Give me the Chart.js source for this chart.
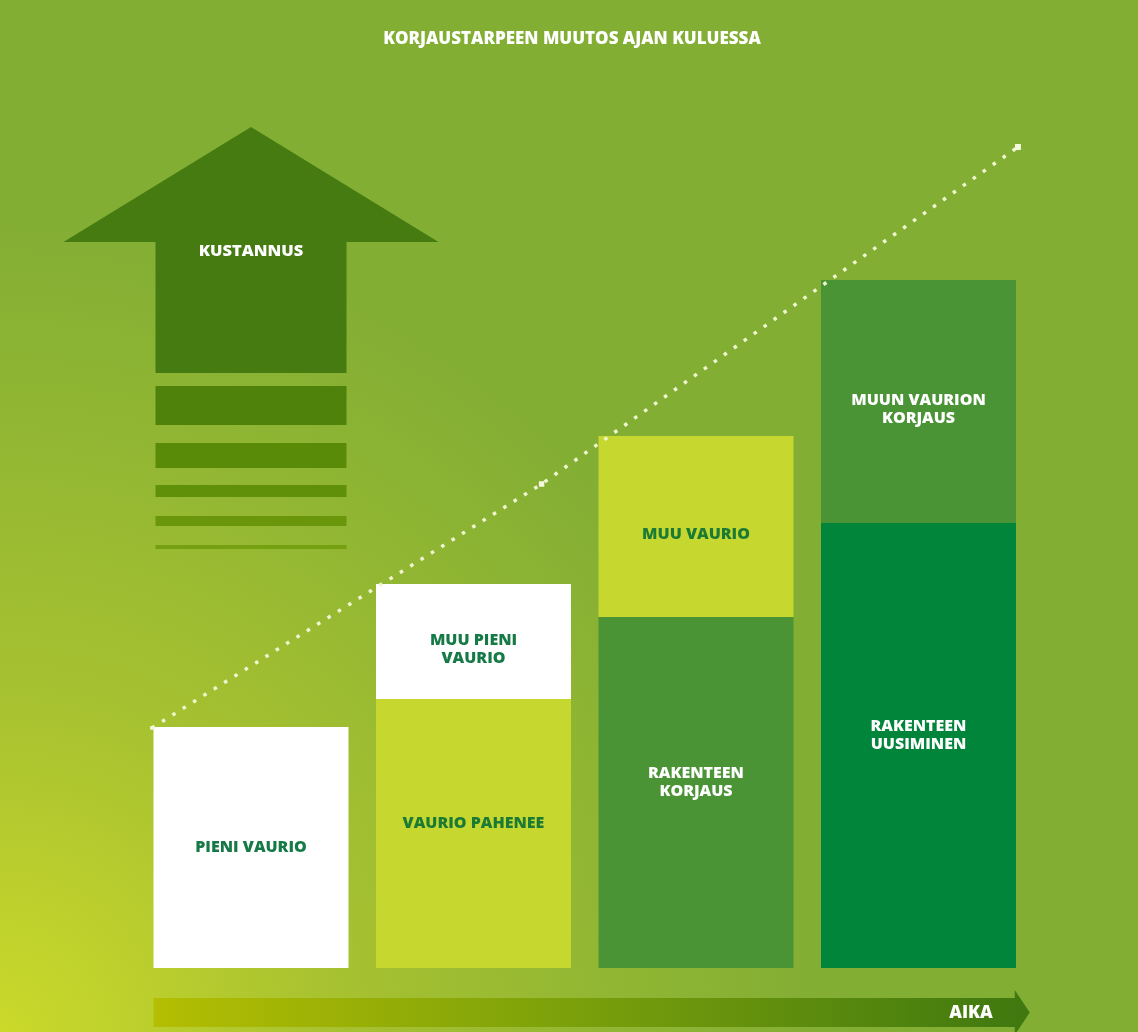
<!DOCTYPE html>
<html lang="fi">
<head>
<meta charset="utf-8">
<title>Korjaustarpeen muutos ajan kuluessa</title>
<script src="https://cdn.jsdelivr.net/npm/chart.js@4.4.1/dist/chart.umd.min.js"></script>
<style>
  html, body { margin: 0; padding: 0; background: #82ae34; }
  #wrap { position: relative; width: 1138px; height: 1032px; }
</style>
</head>
<body>
<div id="wrap"><canvas id="korjausChart"></canvas></div>
<script>
// Vaiheet ajan kuluessa
const vaiheet = ['1', '2', '3', '4'];

// Kustannus: alaosa (vaurio / rakenteen korjaus) ja yläosa (muu vaurio)
const perusKustannus = [24.1, 26.9, 35.1, 44.5];
const lisaKustannus = [null, 11.5, 18.1, 24.3];

const perusTekstit = ['PIENI VAURIO', 'VAURIO PAHENEE', 'RAKENTEEN\nKORJAUS', 'RAKENTEEN\nUUSIMINEN'];
const lisaTekstit = ['', 'MUU PIENI\nVAURIO', 'MUU VAURIO', 'MUUN VAURION\nKORJAUS'];

// Kustannuskehityksen pisteviiva (x = vaiheen indeksi)
const trendiX = [-0.446, 1.306, 3.447];
const trendiY = [24.0, 48.4, 82.1];

const otsikko = 'KORJAUSTARPEEN MUUTOS AJAN KULUESSA';
const kustannusTeksti = 'KUSTANNUS';
const aikaTeksti = 'AIKA';

// värit
const VALKOINEN = '#ffffff';
const KELTAVIHREA = '#c6d82f';
const VIHREA = '#4a9436';
const TUMMA = '#00853b';
const perusVarit = [VALKOINEN, KELTAVIHREA, VIHREA, TUMMA];
const lisaVarit = [VALKOINEN, VALKOINEN, KELTAVIHREA, VIHREA];
const perusTekstiVarit = ['#167a46', '#1b7a34', '#ffffff', '#ffffff'];
const lisaTekstiVarit = ['#167a46', '#167a46', '#1b7a34', '#ffffff'];

const FONTTI = '"Open Sans", "DejaVu Sans", sans-serif';
const PYLVAAT = 1; // ensimmäinen pylväsdatasetti

// Taustan liukuväri vasemmasta alakulmasta
const taustaPlugin = {
    id: 'tausta',
    beforeDraw(chart) {
        const { ctx, width, height } = chart;
        const g = ctx.createRadialGradient(0, height, 0, 0, height, 820);
        g.addColorStop(0, '#cbd92a');
        g.addColorStop(0.4, '#a8c230');
        g.addColorStop(0.75, '#91b633');
        g.addColorStop(1, '#82ae34');
        ctx.save();
        ctx.fillStyle = g;
        ctx.fillRect(0, 0, width, height);
        ctx.restore();
    }
};

// Kustannusnuoli ja aika-akselin nuoli
const nuoletPlugin = {
    id: 'nuolet',
    beforeDatasetsDraw(chart) {
        const { ctx, chartArea } = chart;
        const eka = chart.getDatasetMeta(PYLVAAT).data[0];
        const cx = eka.x;
        const top = chartArea.top;
        ctx.save();

        // nuolen kärki ja varsi
        ctx.fillStyle = '#457b10';
        ctx.beginPath();
        ctx.moveTo(cx, top + 59);
        ctx.lineTo(cx + 187.5, top + 174);
        ctx.lineTo(cx + 95.5, top + 174);
        ctx.lineTo(cx + 95.5, top + 305);
        ctx.lineTo(cx - 95.5, top + 305);
        ctx.lineTo(cx - 95.5, top + 174);
        ctx.lineTo(cx - 187.5, top + 174);
        ctx.closePath();
        ctx.fill();

        // raidat varren alla
        const raidat = [[318, 39, '#4e820a'], [375, 25, '#5a8b08'], [417, 12, '#609009'],
                        [448, 10, '#6a960c'], [477, 4, '#74a012']];
        raidat.forEach(([y, h, vari]) => {
            ctx.fillStyle = vari;
            ctx.fillRect(cx - 95.5, top + y, 191, h);
        });

        ctx.fillStyle = '#ffffff';
        ctx.font = '800 16.5px ' + FONTTI;
        ctx.textAlign = 'center';
        ctx.textBaseline = 'middle';
        ctx.fillText(kustannusTeksti, cx, top + 183);

        // aika-akseli
        const y0 = chartArea.bottom + 30;
        const x0 = eka.x - eka.width / 2;
        const x1 = chartArea.right - 15;
        const g = ctx.createLinearGradient(x0, 0, chartArea.right, 0);
        g.addColorStop(0, '#b4be02');
        g.addColorStop(0.45, '#7ea20a');
        g.addColorStop(1, '#3f7810');
        ctx.fillStyle = g;
        ctx.beginPath();
        ctx.moveTo(x0, y0);
        ctx.lineTo(x1, y0);
        ctx.lineTo(x1, y0 - 8);
        ctx.lineTo(chartArea.right, y0 + 14.5);
        ctx.lineTo(x1, y0 + 37);
        ctx.lineTo(x1, y0 + 29);
        ctx.lineTo(x0, y0 + 29);
        ctx.closePath();
        ctx.fill();

        ctx.fillStyle = '#ffffff';
        ctx.font = '800 17.5px ' + FONTTI;
        ctx.textAlign = 'right';
        ctx.fillText(aikaTeksti, x1 - 22, y0 + 15);
        ctx.restore();
    }
};

// Tekstit pylväiden osien keskelle (hieman kohti osien rajaa) ja otsikko
const tekstitPlugin = {
    id: 'tekstit',
    afterDatasetsDraw(chart) {
        const { ctx } = chart;
        ctx.save();
        ctx.font = '800 16px ' + FONTTI;
        ctx.textAlign = 'center';
        ctx.textBaseline = 'middle';
        [[PYLVAAT, perusTekstit, perusTekstiVarit, -10], [PYLVAAT + 1, lisaTekstit, lisaTekstiVarit, 8]].forEach(([di, tekstit, varit, siirto]) => {
            chart.getDatasetMeta(di).data.forEach((bar, i) => {
                if (!tekstit[i]) return;
                const rivit = tekstit[i].split('\n');
                const jaettu = lisaKustannus[i] != null;
                const keskiY = (bar.y + bar.base) / 2 + (jaettu ? siirto : 0);
                ctx.fillStyle = varit[i];
                rivit.forEach((rivi, r) => {
                    ctx.fillText(rivi, bar.x, keskiY + (r - (rivit.length - 1) / 2) * 18);
                });
            });
        });

        ctx.fillStyle = '#ffffff';
        ctx.font = '800 17px ' + FONTTI;
        ctx.fillText(otsikko, 572, 39);
        ctx.restore();
    }
};

const ctx = document.getElementById('korjausChart').getContext('2d');
const korjausChart = new Chart(ctx, {
    type: 'bar',
    data: {
        labels: vaiheet,
        datasets: [{
            type: 'line',
            label: 'Kustannus',
            data: trendiX.map((x, i) => ({ x: x, y: trendiY[i] })),
            xAxisID: 'xl',
            order: 0,
            borderColor: '#eef5cf',
            borderWidth: 3.5,
            borderDash: [3.5, 8.7],
            borderCapStyle: 'butt',
            pointStyle: 'rect',
            pointRadius: [2.4, 3.8, 4.2],
            pointBorderWidth: 0,
            pointBackgroundColor: '#f4f8dc',
            tension: 0,
            fill: false
        }, {
            label: 'Vaurio',
            data: perusKustannus,
            backgroundColor: perusVarit,
            order: 1,
            grouped: false,
            categoryPercentage: 1,
            barPercentage: 0.8764,
            borderWidth: 0
        }, {
            label: 'Muu vaurio',
            data: lisaKustannus,
            backgroundColor: lisaVarit,
            order: 1,
            grouped: false,
            categoryPercentage: 1,
            barPercentage: 0.8764,
            borderWidth: 0
        }]
    },
    options: {
        responsive: true,
        maintainAspectRatio: false,
        animation: false,
        events: [],
        layout: {
            padding: { left: 139.75, right: 108.25, top: 68, bottom: 64 }
        },
        scales: {
            x: { type: 'category', stacked: true, offset: true, display: false },
            xl: { type: 'linear', min: -0.5, max: 3.5, offset: false, display: false },
            y: { stacked: true, min: 0, max: 90, display: false }
        },
        plugins: {
            legend: { display: false },
            tooltip: { enabled: false }
        }
    },
    plugins: [taustaPlugin, nuoletPlugin, tekstitPlugin]
});
</script>
</body>
</html>
